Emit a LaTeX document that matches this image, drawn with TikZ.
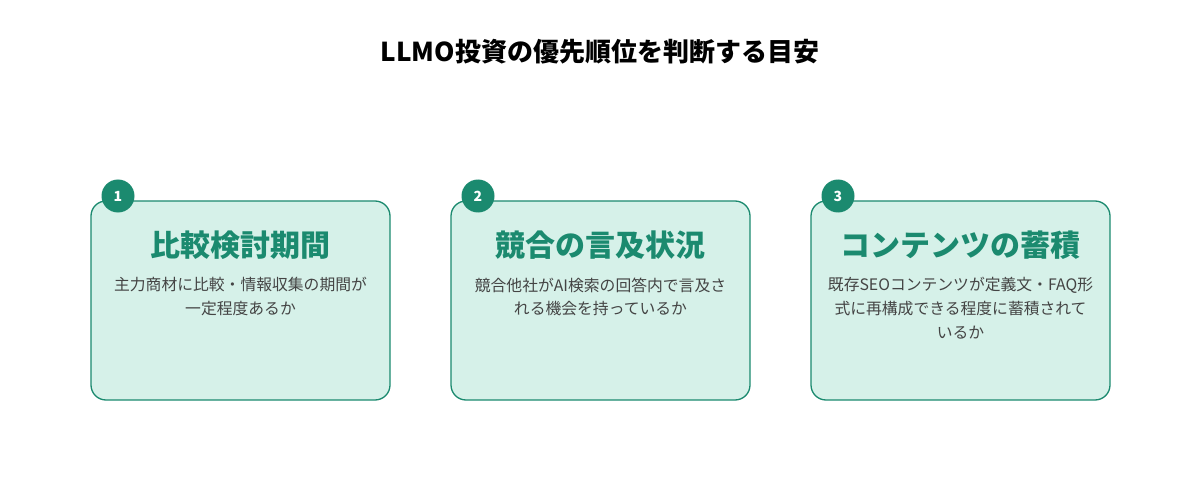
\documentclass[tikz,border=0pt]{standalone}
\usepackage{fontspec}
\setmainfont{Noto Sans CJK JP}
\definecolor{teal}{HTML}{1B8A6F}
\definecolor{mint}{HTML}{D6F1E9}
\definecolor{bodygray}{HTML}{444444}
\begin{document}
\begin{tikzpicture}[x=1pt,y=-1pt,
	card/.style={draw=teal,fill=mint,line width=1.3pt,rounded corners=15pt,minimum width=299pt,minimum height=199pt,inner sep=0pt},
	badge/.style={circle,fill=teal,minimum size=33pt,inner sep=0pt,text=white,font=\fontsize{14}{14}\selectfont\bfseries},
	heading/.style={text=teal,font=\fontsize{30}{30}\selectfont\bfseries},
	body/.style={text=bodygray,align=center,font=\fontsize{15.8}{23.7}\selectfont}]
	    % page
	    \useasboundingbox[fill=white] (0,0) rectangle (1200,500);
	    % title
	    \node[font=\fontsize{26}{26}\selectfont\bfseries] (title) at (600,52) {LLMO投資の優先順位を判断する目安};
	    % cards
	    \node[card] (card1) at (240.5,300.5) {};
	    \node[card] (card2) at (600.5,300.5) {};
	    \node[card] (card3) at (960.5,300.5) {};
	    % number badges
	    \node[badge] (badge1) at (118,196) {1};
	    \node[badge] (badge2) at (478,196) {2};
	    \node[badge] (badge3) at (838,196) {3};
	    % headings
	    \node[heading] (head1) at (240.5,245) {比較検討期間};
	    \node[heading] (head2) at (600.5,245) {競合の言及状況};
	    \node[heading] (head3) at (960.5,245) {コンテンツの蓄積};
	    % descriptions
	    \node[body,anchor=north] (text1) at (240.5,274) {主力商材に比較・情報収集の期間が\\一定程度あるか};
	    \node[body,anchor=north] (text2) at (600.5,274) {競合他社がAI検索の回答内で言及さ\\れる機会を持っているか};
	    \node[body,anchor=north] (text3) at (960.5,274) {既存SEOコンテンツが定義文・FAQ形\\式に再構成できる程度に蓄積されて\\いるか};
	\end{tikzpicture}
\end{document}
